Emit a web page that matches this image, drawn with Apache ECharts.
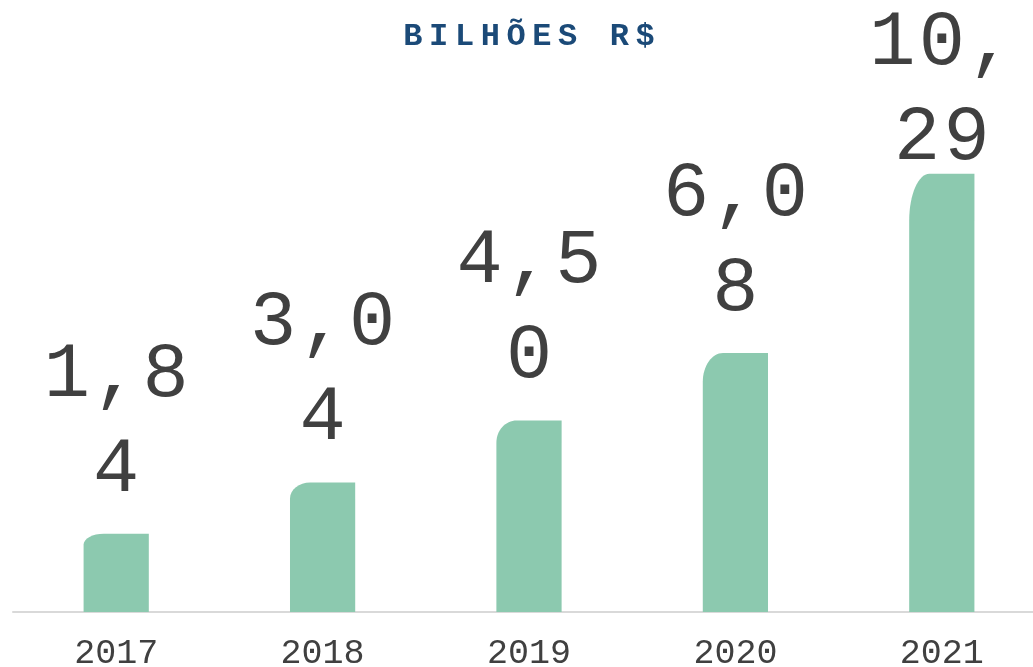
<!DOCTYPE html>
<html>
<head>
<meta charset="utf-8">
<script src="https://cdn.jsdelivr.net/npm/echarts@6/dist/echarts.min.js"></script>
<style>
  html, body { margin: 0; padding: 0; background: #fff; }
  #chart { width: 1033px; height: 667px; }
</style>
</head>
<body>
<div id="chart"></div>
<script>
const years = ['2017', '2018', '2019', '2020', '2021'];
const values = [1.84, 3.04, 4.50, 6.08, 10.29];
const titleText = 'BILHÕES R$';

const MONO = '"Liberation Mono", "DejaVu Sans Mono", monospace';

// wrap every character in a rich token so it gets a little letter spacing
function spaced(str, style) {
  return str.split('\n').map(line =>
    line.split('').map(c => '{' + style + '|' + (c === ' ' ? '\u00a0' : c) + '}').join('')
  ).join('\n');
}

// Excel wraps the labels after three characters: "1,8" / "4"
function labelText(v) {
  const s = v.toFixed(2).replace('.', ',');
  return spaced(s.slice(0, 3) + '\n' + s.slice(3), 'd');
}

const chart = echarts.init(document.getElementById('chart'));

function renderBar(params, api) {
  const i = api.value(0);
  const v = api.value(1);
  const top = api.coord([i, v]);
  const base = api.coord([i, 0]);
  const w = api.size([1, 0])[0] * 0.316;
  const x0 = top[0] - w / 2, x1 = top[0] + w / 2;
  const yt = top[1], yb = base[1];
  const h = yb - yt;
  const rx = w * 0.31, ry = h * 0.1 + 3;
  const k = 0.45;
  const path = 'M' + x0 + ',' + yb +
    ' L' + x0 + ',' + (yt + ry) +
    ' C' + x0 + ',' + (yt + ry * k) + ' ' + (x0 + rx * k) + ',' + yt + ' ' + (x0 + rx) + ',' + yt +
    ' L' + x1 + ',' + yt + ' L' + x1 + ',' + yb + ' Z';
  // label sits above the bar, but is kept inside the chart at the top
  const textBottom = Math.max(yt - 16, 186);
  return {
    type: 'group',
    children: [
      {
        type: 'path',
        shape: { pathData: path },
        style: { fill: '#8cc9af' }
      },
      {
        type: 'text',
        style: {
          text: labelText(v),
          x: top[0],
          y: textBottom,
          align: 'center',
          verticalAlign: 'bottom',
          rich: {
            d: {
              fontFamily: MONO,
              fontSize: 77,
              lineHeight: 95,
              fill: '#404040',
              padding: [0, 1.6]
            }
          }
        }
      }
    ]
  };
}

chart.setOption({
  animation: false,
  title: {
    text: spaced(titleText, 'c'),
    left: 400,
    top: 21,
    padding: 0,
    textStyle: {
      rich: {
        c: {
          fontFamily: MONO,
          fontWeight: 'bold',
          fontSize: 32,
          color: '#1b4a78',
          padding: [0, 3.3]
        }
      }
    }
  },
  grid: { left: 13, right: -12, top: 101, bottom: 55, outerBoundsMode: 'none' },
  xAxis: {
    type: 'category',
    data: years,
    axisTick: { show: false },
    axisLine: { lineStyle: { color: '#d9d9d9', width: 2 } },
    axisLabel: {
      fontFamily: MONO,
      fontSize: 35,
      color: '#404040',
      margin: 24
    }
  },
  yAxis: {
    type: 'value',
    min: 0,
    max: 12,
    show: false
  },
  series: [{
    type: 'custom',
    renderItem: renderBar,
    encode: { x: 0, y: 1 },
    data: values.map((v, i) => [i, v])
  }]
});
</script>
</body>
</html>
